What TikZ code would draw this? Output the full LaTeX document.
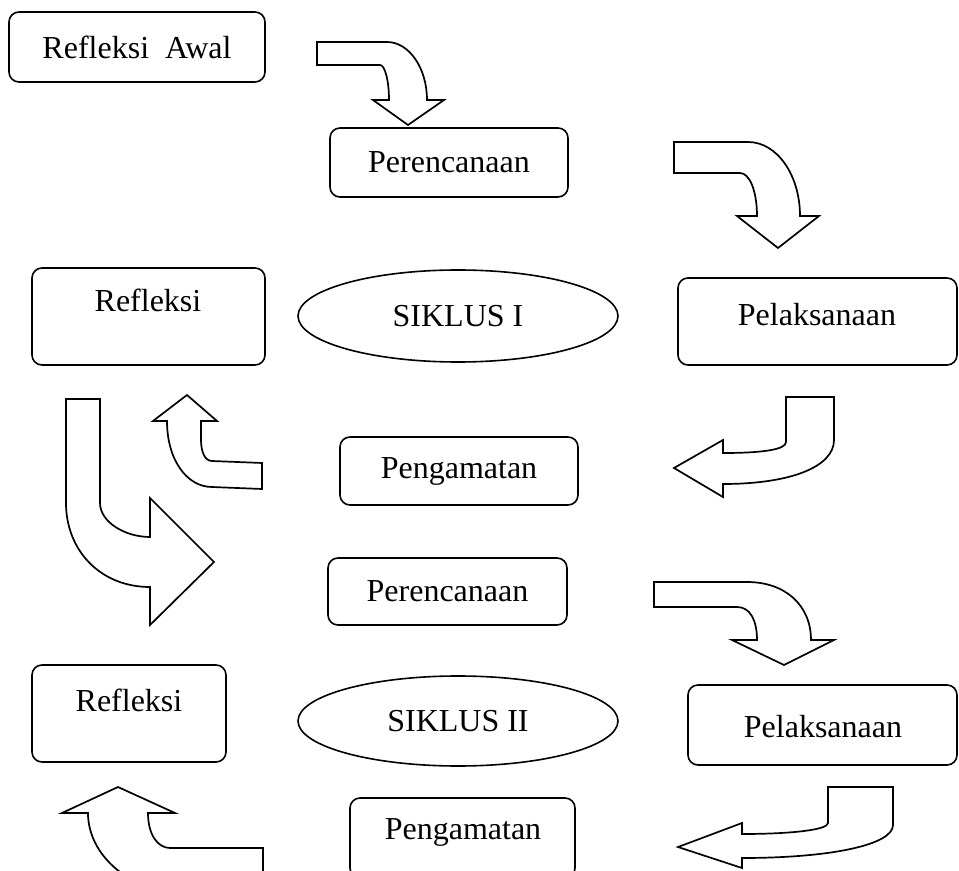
\documentclass[tikz,border=0pt]{standalone}
\usepackage{fontspec}
\setmainfont{Liberation Serif}
\usetikzlibrary{shapes.geometric}
\begin{document}
\begin{tikzpicture}[x=0.5pt,y=-0.5pt,
  rbox/.style={draw, rounded corners=5pt, line width=0.8pt, inner sep=0pt, font=\fontsize{16}{19}\selectfont},
  oval/.style={draw, ellipse, line width=0.8pt, inner sep=0pt, font=\fontsize{16}{19}\selectfont},
  lbl/.style={inner sep=0pt, font=\fontsize{16}{19}\selectfont},
  bigarrow/.style={draw, line width=0.85pt, line join=miter, fill=white}]
\useasboundingbox (0,0) rectangle (959,871);
\clip (0,0) rectangle (959,871);

% boxes
\node[rbox, minimum width=256*0.5pt, minimum height=70*0.5pt] (awal) at (137,47) {Refleksi\ \ Awal};
\node[rbox, minimum width=238*0.5pt, minimum height=69*0.5pt] (per1) at (449,162.5) {Perencanaan};
\node[rbox, minimum width=233*0.5pt, minimum height=97*0.5pt] (ref1) at (148.5,316.5) {};
\node[lbl] (ref1t) at (148,300) {Refleksi};
\node[oval, minimum width=320*0.5pt, minimum height=92*0.5pt] (sik1) at (458,316) {SIKLUS I};
\node[rbox, minimum width=279*0.5pt, minimum height=87*0.5pt] (pel1) at (817.5,321.5) {};
\node[lbl] (pel1t) at (817,315) {Pelaksanaan};
\node[rbox, minimum width=238*0.5pt, minimum height=68*0.5pt] (pen1) at (459,471) {Pengamatan};
\node[rbox, minimum width=239*0.5pt, minimum height=67*0.5pt] (per2) at (447.5,591.5) {Perencanaan};
\node[rbox, minimum width=194*0.5pt, minimum height=97*0.5pt] (ref2) at (129,713.5) {};
\node[lbl] (ref2t) at (129,700) {Refleksi};
\node[oval, minimum width=320*0.5pt, minimum height=90*0.5pt] (sik2) at (458,721) {SIKLUS II};
\node[rbox, minimum width=269*0.5pt, minimum height=80*0.5pt] (pel2) at (822.5,725) {};
\node[lbl] (pel2t) at (823,727) {Pelaksanaan};
\node[rbox, minimum width=225*0.5pt, minimum height=80*0.5pt] (pen2) at (462.5,838) {};
\node[lbl] (pen2t) at (463,832) {Pengamatan};

% arrow 1
\draw[bigarrow] (317,42) -- (387,42) .. controls (409,42) and (427,68) .. (427,100)
  -- (444,100) -- (408,125) -- (373,100) -- (389,100)
  .. controls (389,81) and (385,65) .. (380,65) -- (317,65) -- cycle;
% arrow 2
\draw[bigarrow] (674,142) -- (748,142) .. controls (777,142) and (800,175) .. (800,216)
  -- (819,216) -- (778,248) -- (737,216) -- (757,216)
  .. controls (757,192) and (750,173) .. (740,173) -- (674,173) -- cycle;
% arrow 3
\draw[bigarrow] (786,397) -- (834,397) -- (834,440) .. controls (834,467) and (790,484) .. (723,484)
  -- (723,497) -- (674,468) -- (723,440) -- (723,453)
  .. controls (760,453) and (786,450) .. (786,442) -- cycle;
% arrow 4
\draw[bigarrow] (187,395) -- (217,421) -- (201,421) -- (201,440)
  .. controls (201,452) and (205,461) .. (212,461) -- (262,463) -- (262,489) -- (212,487)
  .. controls (187,487) and (167,460) .. (167,421) -- (153,421) -- cycle;
% arrow 5
\draw[bigarrow] (66,399) -- (100,399) -- (100,503) .. controls (100,522) and (125,537) .. (150,537)
  -- (150,498) -- (214,562) -- (150,625) -- (150,587)
  .. controls (100,587) and (66,550) .. (66,503) -- cycle;
% arrow 6
\draw[bigarrow] (654,582) -- (747,582) .. controls (785,582) and (811,605) .. (811,640)
  -- (834,640) -- (784,665) -- (732,640) -- (757,640)
  .. controls (757,620) and (750,607) .. (737,607) -- (654,607) -- cycle;
% arrow 7
\draw[bigarrow] (828,787) -- (893,787) -- (893,825) .. controls (893,845) and (830,858) .. (742,858)
  -- (742,868) -- (678,847) -- (742,823) -- (742,834)
  .. controls (790,834) and (828,830) .. (828,823) -- cycle;
% arrow 8
\draw[bigarrow] (118,787) -- (175,813) -- (148,813) .. controls (148,835) and (158,848) .. (170,848)
  -- (263,848) -- (263,895) -- (175,895)
  .. controls (120,885) and (88,850) .. (88,813) -- (62,813) -- cycle;
\end{tikzpicture}
\end{document}
